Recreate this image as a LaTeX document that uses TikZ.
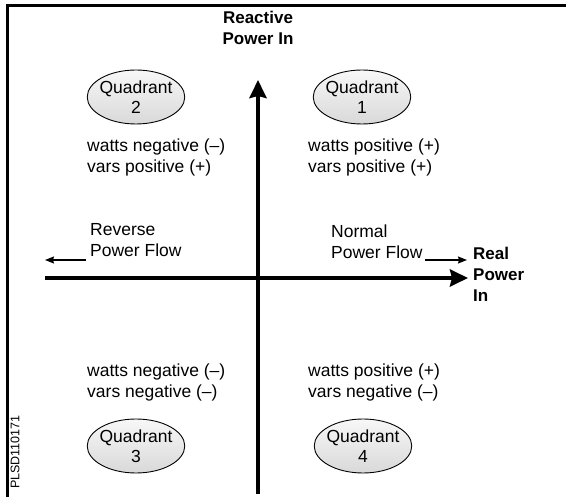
\documentclass[tikz,border=0pt]{standalone}
\usepackage{fontspec}
\setmainfont{Liberation Sans}
\usetikzlibrary{shapes.geometric,arrows.meta}
\begin{document}
\begin{tikzpicture}[x=1pt,y=-1pt,
  quad/.style={ellipse,draw=black,line width=0.9pt,top color=gray!6,bottom color=gray!30,
    minimum width=86pt,minimum height=54pt,inner sep=-2pt,align=center,font=\fontsize{17.5}{20}\selectfont},
  lbl/.style={anchor=west,align=left,inner sep=0pt,font=\fontsize{17.5}{21}\selectfont},
  axis/.style={line width=4.5pt,-{Stealth[length=18pt,width=17pt,inset=2pt]}},
  flow/.style={line width=1.4pt,-{Stealth[length=9pt,width=7pt,inset=1pt]}}]
\useasboundingbox (0,0) rectangle (566,497);
% frame (top and left edges)
\draw[line width=2.5pt] (7.5,497) -- (7.5,5.5) -- (566,5.5);
% axes
\coordinate (vb) at (258,494);
\coordinate (vt) at (258,80);
\coordinate (hl) at (45,278);
\coordinate (hr) at (468,278);
\draw[axis] (vb) -- (vt);
\draw[axis] (hl) -- (hr);
% axis titles
\node[align=center,inner sep=0pt,font=\bfseries\fontsize{17}{21}\selectfont] (reac) at (258,28) {Reactive\\Power In};
\node[lbl,font=\bfseries\fontsize{17}{21}\selectfont] (real) at (473,274) {Real\\Power\\In};
% quadrants
\node[quad] (q2) at (136,97) {Quadrant\\2};
\node[quad] (q1) at (362,97) {Quadrant\\1};
\node[quad] (q3) at (136,446) {Quadrant\\3};
\node[quad] (q4) at (363,446) {Quadrant\\4};
% sign texts
\node[lbl] (t2) at (87,157) {watts negative (--)\\vars positive (+)};
\node[lbl] (t1) at (308,157) {watts positive (+)\\vars positive (+)};
\node[lbl] (t3) at (87,382) {watts negative (--)\\vars negative (--)};
\node[lbl] (t4) at (308,382) {watts positive (+)\\vars negative (--)};
% flow labels
\node[lbl] (rev) at (90,240) {Reverse\\Power Flow};
\node[lbl] (nor) at (331,242) {Normal\\Power Flow};
\coordinate (ra) at (45,260);
\coordinate (na) at (467,260);
\draw[flow] (rev.south west |- 0,260) ++(-4,0) coordinate (rs) -- (ra);
\draw[flow] (nor.south east |- 0,260) ++(2,0) coordinate (ns) -- (na);
% code
\node[rotate=90,inner sep=0pt,font=\fontsize{12.5}{14}\selectfont] (code) at (15,452) {PLSD110171};
\end{tikzpicture}
\end{document}
